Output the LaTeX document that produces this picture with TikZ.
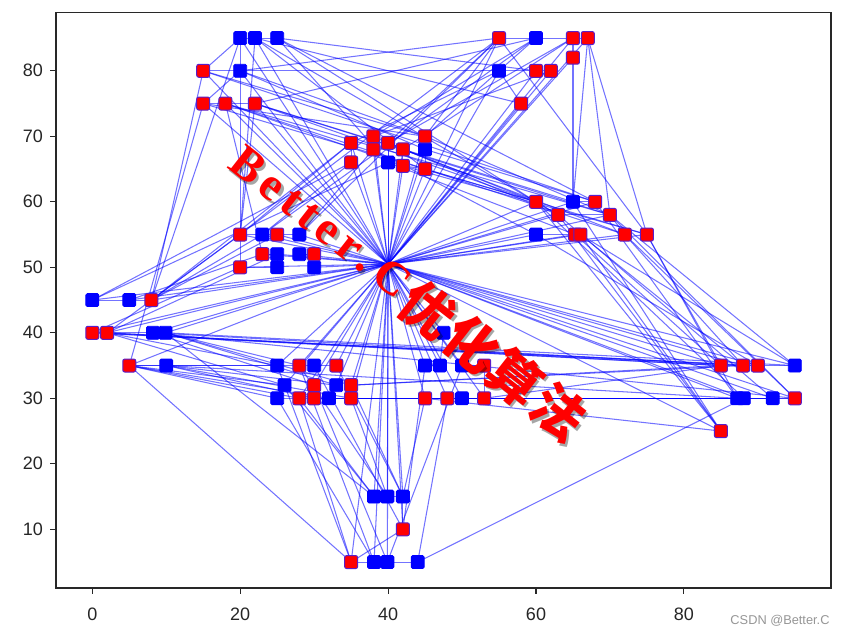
\documentclass[tikz,border=0pt]{standalone}
\usepackage{fontspec}
\setmainfont{Liberation Sans}
\newfontfamily\wmlat{Liberation Serif}
\newfontfamily\wmcjk{Noto Sans CJK SC}
\definecolor{redge}{RGB}{90,30,200}
\definecolor{framec}{RGB}{40,40,40}
\definecolor{csdngray}{RGB}{150,150,150}
\pgfdeclarelayer{bglayer}
\pgfdeclarelayer{edgelayer}
\pgfsetlayers{bglayer,edgelayer,main}
\tikzset{
  bsq/.style={rectangle, minimum size=13pt, inner sep=0pt, fill=blue, draw=blue, line width=0.8pt, rounded corners=1.5pt},
  rsq/.style={rectangle, minimum size=13pt, inner sep=0pt, fill=red, draw=redge, line width=1pt, rounded corners=2pt},
  lnk/.style={draw=blue, line width=1.05pt, opacity=0.55},
  tickmark/.style={draw=framec, line width=1.1pt},
  ticklabel/.style={inner sep=0pt, font=\fontsize{18}{18}\selectfont, text=black!85},
  wmlatin/.style={inner sep=0pt, anchor=base, font=\wmlat\bfseries\fontsize{47}{47}\selectfont},
  wmhan/.style={inner sep=0pt, anchor=base, font=\wmcjk\bfseries\fontsize{53}{53}\selectfont},
}
\begin{document}
\begin{tikzpicture}[x=1pt,y=1pt]
\useasboundingbox (0,0) rectangle (845,635);
\begin{pgfonlayer}{bglayer}
\fill[white] (0,0) rectangle (845,635);
\end{pgfonlayer}
\begin{scope}[shift={(92.3pt,40.2pt)}, x=7.395pt, y=6.55pt]
\coordinate (hub) at (40,50.5);
% blue points
\node[bsq] (b1) at (20,85) {};
\node[bsq] (b2) at (22,85) {};
\node[bsq] (b3) at (25,85) {};
\node[bsq] (b4) at (20,80) {};
\node[bsq] (b5) at (55,80) {};
\node[bsq] (b6) at (60,85) {};
\node[bsq] (b7) at (40,66) {};
\node[bsq] (b8) at (45,68) {};
\node[bsq] (b9) at (65,60) {};
\node[bsq] (b10) at (60,55) {};
\node[bsq] (b11) at (23,55) {};
\node[bsq] (b12) at (28,55) {};
\node[bsq] (b13) at (25,52) {};
\node[bsq] (b14) at (25,50) {};
\node[bsq] (b15) at (28,52) {};
\node[bsq] (b16) at (30,50) {};
\node[bsq] (b17) at (0,45) {};
\node[bsq] (b18) at (5,45) {};
\node[bsq] (b19) at (8.2,40) {};
\node[bsq] (b20) at (9.9,40) {};
\node[bsq] (b21) at (10,35) {};
\node[bsq] (b22) at (25,35) {};
\node[bsq] (b23) at (30,35) {};
\node[bsq] (b24) at (26,32) {};
\node[bsq] (b25) at (25,30) {};
\node[bsq] (b26) at (32,30) {};
\node[bsq] (b27) at (33,32) {};
\node[bsq] (b28) at (45,35) {};
\node[bsq] (b29) at (47,35) {};
\node[bsq] (b30) at (50,35) {};
\node[bsq] (b31) at (50,30) {};
\node[bsq] (b32) at (47.5,40) {};
\node[bsq] (b33) at (38.1,15) {};
\node[bsq] (b34) at (39.9,15) {};
\node[bsq] (b35) at (42,15) {};
\node[bsq] (b36) at (38.1,5) {};
\node[bsq] (b37) at (39.9,5) {};
\node[bsq] (b38) at (44,5) {};
\node[bsq] (b39) at (95,35) {};
\node[bsq] (b40) at (87.2,30) {};
\node[bsq] (b41) at (88.1,30) {};
\node[bsq] (b42) at (92,30) {};
% red points
\node[rsq] (r1) at (15,80) {};
\node[rsq] (r2) at (15,75) {};
\node[rsq] (r3) at (18,75) {};
\node[rsq] (r4) at (22,75) {};
\node[rsq] (r5) at (35,69) {};
\node[rsq] (r6) at (35,66) {};
\node[rsq] (r7) at (38,70) {};
\node[rsq] (r8) at (38,68) {};
\node[rsq] (r9) at (40,69) {};
\node[rsq] (r10) at (42,68) {};
\node[rsq] (r11) at (42,65.5) {};
\node[rsq] (r12) at (45,70) {};
\node[rsq] (r13) at (45,65) {};
\node[rsq] (r14) at (55,85) {};
\node[rsq] (r15) at (65,85) {};
\node[rsq] (r16) at (67,85) {};
\node[rsq] (r17) at (65,82) {};
\node[rsq] (r18) at (60,80) {};
\node[rsq] (r19) at (62,80) {};
\node[rsq] (r20) at (58,75) {};
\node[rsq] (r21) at (60,60) {};
\node[rsq] (r22) at (63,58) {};
\node[rsq] (r23) at (65.3,55) {};
\node[rsq] (r24) at (66,55) {};
\node[rsq] (r25) at (68,60) {};
\node[rsq] (r26) at (70,58) {};
\node[rsq] (r27) at (72,55) {};
\node[rsq] (r28) at (75,55) {};
\node[rsq] (r29) at (20,55) {};
\node[rsq] (r30) at (25,55) {};
\node[rsq] (r31) at (23,52) {};
\node[rsq] (r32) at (20,50) {};
\node[rsq] (r33) at (30,52) {};
\node[rsq] (r34) at (8,45) {};
\node[rsq] (r35) at (0,40) {};
\node[rsq] (r36) at (2,40) {};
\node[rsq] (r37) at (5,35) {};
\node[rsq] (r38) at (28,35) {};
\node[rsq] (r39) at (33,35) {};
\node[rsq] (r40) at (30,32) {};
\node[rsq] (r41) at (35,32) {};
\node[rsq] (r42) at (28,30) {};
\node[rsq] (r43) at (30,30) {};
\node[rsq] (r44) at (35,30) {};
\node[rsq] (r45) at (45,30) {};
\node[rsq] (r46) at (48,30) {};
\node[rsq] (r47) at (53,30) {};
\node[rsq] (r48) at (53,35) {};
\node[rsq] (r49) at (85,35) {};
\node[rsq] (r50) at (88,35) {};
\node[rsq] (r51) at (90,35) {};
\node[rsq] (r52) at (95,30) {};
\node[rsq] (r53) at (85,25) {};
\node[rsq] (r54) at (42,10) {};
\node[rsq] (r55) at (35,5) {};
\begin{pgfonlayer}{edgelayer}
\foreach \a/\b in {
 hub/r1, r1/b1, b1/b2, b2/b3, b3/r18, r18/hub,
 hub/b4, b4/r2, r2/r3, r3/r4, r4/hub,
 hub/r5, r5/r6, r6/hub,
 hub/r7, r7/r8, r8/r9, r9/b7, b7/hub,
 hub/r10, r10/r11, r11/r13, r13/b8, b8/r12, r12/hub,
 hub/r14, r14/b6, b6/r15, r15/r16, r16/r28, r28/hub,
 hub/r17, r17/b9, b9/r25, r25/hub,
 hub/r19, r19/b5, b5/r20, r20/hub,
 hub/r21, r21/r22, r22/r26, r26/r27, r27/hub,
 hub/b10, b10/r23, r23/r24, r24/r53, r53/hub,
 hub/r29, r29/b11, b11/r30, r30/b12, b12/hub,
 hub/r31, r31/b13, b13/b14, b14/r32, r32/hub,
 hub/b15, b15/r33, r33/b16, b16/hub,
 hub/b17, b17/b18, b18/r34, r34/hub,
 hub/r35, r35/r36, r36/b19, b19/b20, b20/hub,
 hub/r37, r37/b21, b21/b22, b22/hub,
 hub/r38, r38/b23, b23/r39, r39/hub,
 hub/b24, b24/b25, b25/r42, r42/r43, r43/r40, r40/hub,
 hub/b27, b27/b26, b26/r44, r44/r41, r41/hub,
 hub/b28, b28/b29, b29/b32, b32/hub,
 hub/b30, b30/r48, r48/r47, r47/b31, b31/r46, r46/r45, r45/hub,
 hub/r49, r49/r50, r50/r51, r51/b39, b39/hub,
 hub/b40, b40/b41, b41/b42, b42/r52, r52/hub,
 hub/b33, b33/b34, b34/b35, b35/r54, r54/hub,
 hub/r55, r55/b36, b36/b37, b37/b38, b38/b41, b41/hub,
 r34/r1, r34/b1, r2/r37, r3/r31, r4/r29, b2/r13, b3/r25, b6/r4, r14/r28,
 r14/b12, r1/b5, r2/r12, r3/r11, r4/r21, r16/r26, r35/r49, r36/r50, b19/r52,
 r37/r55, b21/b40, r37/r42, b17/b7, r34/r29, r36/b13, r38/b36, b22/r55,
 r44/b34, r41/b35, r42/b33, r54/r55, b38/r46, r21/r53, r22/r53, b9/r53,
 r28/r49, r27/r50, r26/r52, r25/b40, r24/b39, r44/b40, r41/r49, r43/b42,
 b26/r52, r12/r14, r5/b5, r7/r19, r9/r15, r13/r21, b8/r25, r12/r26, r10/r27,
 r11/r28, r5/r29, r6/b11, r8/b12, b4/r14, r45/r53, b31/b40, r47/r49,
 r1/r12, b2/r20, b3/b7, r35/r32, r36/r29, b18/r31, r37/b24, b21/r43,
 b20/r38, b20/b33, r17/r15, r16/b9,
 hub/b1, hub/b2, hub/r2, hub/r3, hub/r8, hub/r9, hub/r11, hub/r13, hub/b8,
 hub/r15, hub/r16, hub/b5, hub/r22, hub/r23, hub/r24, hub/r26, hub/b9,
 hub/r50, hub/r51, hub/b42, hub/b36, hub/b37, hub/b34, hub/b35,
 hub/r36, hub/b19, hub/b18, hub/r30, hub/b11, hub/b13, hub/r42, hub/r44,
 hub/r46, hub/r47, hub/b29, hub/b31,
 b2/r29, b1/r32, r2/r28, r3/r27, r4/r26, r1/r25, r14/r29, b6/b11,
 b6/r12, r15/r10, r34/b11, r34/r30, r37/b25, r37/r38, b21/r44, r36/b22,
 b20/b27, r36/b24, b19/r40, b20/r41, r37/b26, b21/b27, b25/b36, r42/r55,
 b24/b33, r40/b37, b23/r54, r39/b35, r38/b34, r45/b35, b28/r54, b30/b37,
 r23/r49, r24/r50, b10/r51, r21/b41, r22/b42, r26/b39, r27/r52, r28/b40,
 r35/r51, r36/r49, b19/r50, b20/b39, r43/b41, r44/b42, r41/r50,
 b3/r21, b2/r22, r4/b9, r3/r26, r9/r21, r8/b10, r7/r22, b7/r23,
 r14/r9, b6/r7, b4/r12, b4/b8, b17/r6, r34/r5}
 \draw[lnk] (\a.center) -- (\b.center);
\end{pgfonlayer}
\end{scope}
% axes frame
\draw[framec, line width=1.4pt] (56,47) rectangle (831,622.3);
\foreach \v in {0,20,40,60,80} {
  \draw[tickmark] ({92.3+7.395*\v},47) -- ++(0,-6);
  \node[ticklabel] (xl\v) at ({92.3+7.395*\v},21) {\v};
}
\foreach \v in {10,20,...,80} {
  \draw[tickmark] (56,{40.2+6.55*\v}) -- ++(-6,0);
  \node[ticklabel, anchor=east] (yl\v) at (43,{40.2+6.55*\v}) {\v};
}
% watermark text: shadow then red
\begin{scope}[shift={(250.5pt,467.5pt)}, rotate=-38, transform shape]
\foreach \ch/\s/\i in {B/0/1, e/32.5/2, t/57/3, t/79/4, e/103.5/5, r/130.5/6, ./151.5/7, C/183/8}
  \node[wmlatin, text=black, opacity=0.35] (wsl\i) at (\s,-15.5) {\ch};
\foreach \ch/\s/\i in {优/231/1, 化/286/2, 算/341/3, 法/397/4}
  \node[wmhan, text=black, opacity=0.35] (wsh\i) at (\s,-23.5) {\ch};
\end{scope}
\begin{scope}[shift={(248pt,470pt)}, rotate=-38, transform shape]
\foreach \ch/\s/\i in {B/0/1, e/32.5/2, t/57/3, t/79/4, e/103.5/5, r/130.5/6, ./151.5/7, C/183/8}
  \node[wmlatin, text=red] (wl\i) at (\s,-15.5) {\ch};
\foreach \ch/\s/\i in {优/231/1, 化/286/2, 算/341/3, 法/397/4}
  \node[wmhan, text=red] (wh\i) at (\s,-23.5) {\ch};
\end{scope}
\node[text=csdngray, inner sep=0pt, font=\fontsize{12.8}{13}\selectfont] (csdn) at (780,14.3) {CSDN @Better.C};
\end{tikzpicture}
\end{document}
